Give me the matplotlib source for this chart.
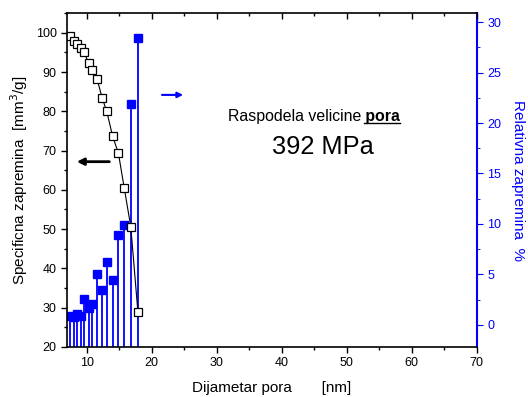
import matplotlib
matplotlib.use('Agg')
import matplotlib.pyplot as plt
from matplotlib.ticker import MultipleLocator

plt.rcParams['font.family'] = ['Liberation Sans', 'DejaVu Sans']

# pore diameter [nm]
diam = [7.5, 8.0, 8.5, 9.1, 9.6, 10.3, 10.8, 11.6, 12.4, 13.1, 14.0, 14.9, 15.8, 16.8, 17.9]
# specific volume [mm3/g]
spec_vol = [99.1, 98.0, 97.2, 96.0, 95.0, 92.4, 90.6, 88.3, 83.4, 80.0, 73.7, 69.3, 60.4, 50.6, 28.8]
# relative volume [%]
rel_vol = [0.9, 0.75, 1.1, 0.9, 2.55, 1.7, 2.1, 5.0, 3.4, 6.2, 4.4, 8.9, 9.9, 21.9, 28.4]

blue = '#0000ff'

fig = plt.figure(figsize=(5.28, 3.97), dpi=100)
ax = fig.add_axes([0.127, 0.126, 0.776, 0.841])
ax2 = ax.twinx()

# right axis: stems down to the bottom of the frame
y2min, y2max = -2.2, 30.9
ax2.vlines(diam, y2min, rel_vol, color=blue, lw=1.3)
ax2.plot(diam, rel_vol, 's', color=blue, ms=5.5)
ax2.set_ylim(y2min, y2max)
ax2.yaxis.set_major_locator(MultipleLocator(5))
ax2.yaxis.set_minor_locator(MultipleLocator(2.5))
ax2.tick_params(axis='y', which='both', colors=blue, labelsize=9, direction='out')
ax2.tick_params(axis='y', which='major', length=4)
ax2.tick_params(axis='y', which='minor', length=2.5)
ax2.spines['right'].set_color(blue)
ax2.spines['right'].set_linewidth(1.5)
for s in ['left', 'top', 'bottom']:
    ax2.spines[s].set_visible(False)
ax2.set_ylabel('Relativna zapremina  %', color=blue, fontsize=11, rotation=270, labelpad=17)

# left axis on top
ax.set_zorder(ax2.get_zorder() + 1)
ax.patch.set_visible(False)
ax.plot(diam, spec_vol, 's-', color='black', mfc='white', mec='black', ms=6, lw=0.8, mew=0.9)
ax.set_xlim(7, 70)
ax.set_ylim(20, 105)
ax.xaxis.set_major_locator(MultipleLocator(10))
ax.xaxis.set_minor_locator(MultipleLocator(5))
ax.yaxis.set_major_locator(MultipleLocator(10))
ax.yaxis.set_minor_locator(MultipleLocator(5))
ax.tick_params(axis='both', which='both', labelsize=9, direction='out', top=True)
ax.tick_params(which='major', length=4, width=1)
ax.tick_params(which='minor', length=2.5, width=1)
ax.spines['right'].set_visible(False)
for s in ['left', 'top', 'bottom']:
    ax.spines[s].set_linewidth(1.2)
# top ticks point inward
for t in ax.xaxis.get_major_ticks() + ax.xaxis.get_minor_ticks():
    t.tick2line.set_marker(3)

ax.set_xlabel('Dijametar pora       [nm]', fontsize=11, labelpad=8)
ax.set_ylabel('Specificna zapremina  [mm$^3$/g]', fontsize=11, labelpad=4)

# arrows pointing to the axes
ax.annotate('', xy=(0.017, 0.555), xytext=(0.11, 0.555), xycoords='axes fraction',
            arrowprops=dict(arrowstyle='-|>', color='black', lw=2, mutation_scale=10))
ax.annotate('', xy=(0.29, 0.755), xytext=(0.225, 0.755), xycoords='axes fraction',
            arrowprops=dict(arrowstyle='-|>', color=blue, lw=1.5, mutation_scale=8))

# title text with bold underlined "pora"
t1 = ax.text(0.392, 0.69, 'Raspodela velicine', transform=ax.transAxes, fontsize=11.4,
             va='center', ha='left')
fig.canvas.draw()
bb = t1.get_window_extent()
inv = ax.transAxes.inverted()
x_end = inv.transform((bb.x1, bb.y0))[0]
t2 = ax.text(x_end, 0.69, ' pora', transform=ax.transAxes, fontsize=11.4,
             fontweight='bold', va='center', ha='left')
fig.canvas.draw()
bb2 = t2.get_window_extent()
p0 = inv.transform((bb2.x0 + 3, bb2.y0 + 1))
p1 = inv.transform((bb2.x1, bb2.y0 + 1))
ax.plot([p0[0], p1[0]], [p0[1], p1[1]], transform=ax.transAxes, color='black', lw=1)

ax.text(0.625, 0.60, '392 MPa', transform=ax.transAxes, fontsize=18.3, va='center', ha='center')

fig.savefig('out.png', dpi=100)
